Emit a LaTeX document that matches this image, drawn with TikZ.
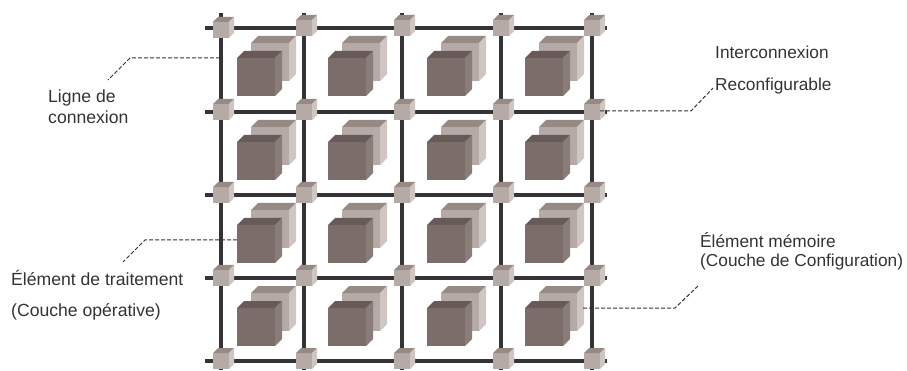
\documentclass[tikz,border=0pt]{standalone}
\usepackage{fontspec}
\setmainfont{Liberation Sans}

\definecolor{wirecol}{HTML}{353238}
\definecolor{textcol}{HTML}{333333}
\definecolor{peface}{HTML}{7B6D6A}
\definecolor{petop}{HTML}{685A59}
\definecolor{peside}{HTML}{8A7C78}
\definecolor{memface}{HTML}{B5AAA5}
\definecolor{memtop}{HTML}{978A84}
\definecolor{memside}{HTML}{CFC6C3}

\tikzset{
	wire/.style={line width=4pt, color=wirecol},
	leader/.style={line width=1pt, color=textcol, dash pattern=on 4pt off 2pt},
	lbl/.style={anchor=base west, inner sep=0pt, text=textcol, font=\fontsize{17.3}{20}\selectfont},
	lblwide/.style={lbl, font=\fontsize{17.6}{20}\selectfont},
}

% block: left, top, width, depth, then the colours of front, top and side
\newcommand{\block}[7]{
	\fill[color=#5] (#1,#2) rectangle ++(#3,#3);
	\fill[color=#6] (#1,#2) -- ++(#4,-#4) -- ++(#3,0) -- ++(-#4,#4) -- cycle;
	\fill[color=#7] (#1+#3,#2) -- ++(#4,-#4) -- ++(0,#3) -- ++(-#4,#4) -- cycle;
}

\begin{document}
\begin{tikzpicture}[x=1pt, y=-1pt]
	\useasboundingbox (0,0) rectangle (907,371);
	% routing wires
	\foreach \py [count=\j] in {28,112,195,278,361} {
		\coordinate (rowa\j) at (205,\py);
		\coordinate (rowb\j) at (607,\py);
		\draw[wire] (rowa\j) -- (rowb\j);
	}
	\foreach \px [count=\i] in {221,304,402,501,592} {
		\coordinate (cola\i) at (\px,13);
		\coordinate (colb\i) at (\px,370);
		\draw[wire] (cola\i) -- (colb\i);
	}
	% memory and processing cubes of each cell
	\foreach \cx in {237,328,427,525} {
		\foreach \cy in {58,142,225,308} {
			\block{\cx+14}{\cy-15}{38}{7}{memface}{memtop}{memside}
			\block{\cx}{\cy}{38}{7}{peface}{petop}{peside}
		}
	}
	% switches on the crossings, the corner one sits a little low
	\foreach \px/\py in {221/30,304/28,402/28,501/28,592/28} {
		\block{\px-8}{\py-8}{16}{5}{memface}{memtop}{memside}
	}
	\foreach \px in {221,304,402,501,592} {
		\foreach \py in {112,195,278,361} {
			\block{\px-8}{\py-8}{16}{5}{memface}{memtop}{memside}
		}
	}
	% labels
	\node[lblwide] (ligne) at (48,103) {Ligne de};
	\node[lblwide] (connexion) at (48,124) {connexion};
	\node[lbl] (inter) at (715,59) {Interconnexion};
	\node[lbl] (reconf) at (715,91) {Reconfigurable};
	\node[lblwide] (element) at (11,285) {Élément de traitement};
	\node[lblwide] (couche) at (11,316) {(Couche opérative)};
	\node[lbl] (memoire) at (700,248) {Élément mémoire};
	\node[lbl] (config) at (700,267) {(Couche de Configuration)};
	% leaders
	\coordinate (ligneA) at (220,58);
	\coordinate (ligneB) at (130,58);
	\coordinate (ligneC) at (108,80);
	\draw[leader] (ligneA) -- (ligneB) -- (ligneC);
	\coordinate (interA) at (600,111);
	\coordinate (interB) at (691,111);
	\coordinate (interC) at (713,88);
	\draw[leader] (interA) -- (interB) -- (interC);
	\coordinate (elemA) at (237,240);
	\coordinate (elemB) at (145,240);
	\coordinate (elemC) at (123,262);
	\draw[leader] (elemA) -- (elemB) -- (elemC);
	\coordinate (memA) at (583,308);
	\coordinate (memB) at (675,308);
	\coordinate (memC) at (698,286);
	\draw[leader] (memA) -- (memB) -- (memC);
\end{tikzpicture}
\end{document}
